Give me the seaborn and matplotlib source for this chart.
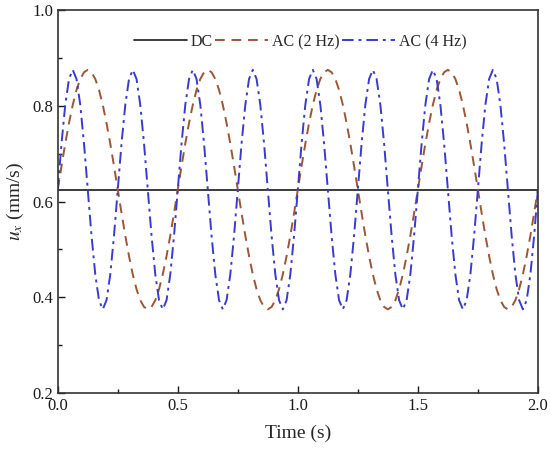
import numpy as np
import pandas as pd
import seaborn as sns
import matplotlib
matplotlib.use("Agg")
import matplotlib.pyplot as plt
from matplotlib.ticker import MultipleLocator

# Sampling grid (s), step 1/64 s
time = np.linspace(0.0, 2.0, 129)

# DC value (mm/s)
dc_value = 0.625

# AC (2 Hz) values (mm/s)
ac2 = [
    0.625, 0.674, 0.721, 0.764, 0.802, 0.833, 0.856, 0.870, 0.875, 0.870, 0.856, 0.833, 0.802, 0.764, 0.721, 0.674,
    0.625, 0.576, 0.529, 0.486, 0.448, 0.417, 0.394, 0.380, 0.375, 0.380, 0.394, 0.417, 0.448, 0.486, 0.529, 0.576,
    0.625, 0.674, 0.721, 0.764, 0.802, 0.833, 0.856, 0.870, 0.875, 0.870, 0.856, 0.833, 0.802, 0.764, 0.721, 0.674,
    0.625, 0.576, 0.529, 0.486, 0.448, 0.417, 0.394, 0.380, 0.375, 0.380, 0.394, 0.417, 0.448, 0.486, 0.529, 0.576,
    0.625, 0.674, 0.721, 0.764, 0.802, 0.833, 0.856, 0.870, 0.875, 0.870, 0.856, 0.833, 0.802, 0.764, 0.721, 0.674,
    0.625, 0.576, 0.529, 0.486, 0.448, 0.417, 0.394, 0.380, 0.375, 0.380, 0.394, 0.417, 0.448, 0.486, 0.529, 0.576,
    0.625, 0.674, 0.721, 0.764, 0.802, 0.833, 0.856, 0.870, 0.875, 0.870, 0.856, 0.833, 0.802, 0.764, 0.721, 0.674,
    0.625, 0.576, 0.529, 0.486, 0.448, 0.417, 0.394, 0.380, 0.375, 0.380, 0.394, 0.417, 0.448, 0.486, 0.529, 0.576,
    0.625,
]

# AC (4 Hz) values (mm/s)
ac4 = [
    0.625, 0.721, 0.802, 0.856, 0.875, 0.856, 0.802, 0.721, 0.625, 0.529, 0.448, 0.394, 0.375, 0.394, 0.448, 0.529,
    0.625, 0.721, 0.802, 0.856, 0.875, 0.856, 0.802, 0.721, 0.625, 0.529, 0.448, 0.394, 0.375, 0.394, 0.448, 0.529,
    0.625, 0.721, 0.802, 0.856, 0.875, 0.856, 0.802, 0.721, 0.625, 0.529, 0.448, 0.394, 0.375, 0.394, 0.448, 0.529,
    0.625, 0.721, 0.802, 0.856, 0.875, 0.856, 0.802, 0.721, 0.625, 0.529, 0.448, 0.394, 0.375, 0.394, 0.448, 0.529,
    0.625, 0.721, 0.802, 0.856, 0.875, 0.856, 0.802, 0.721, 0.625, 0.529, 0.448, 0.394, 0.375, 0.394, 0.448, 0.529,
    0.625, 0.721, 0.802, 0.856, 0.875, 0.856, 0.802, 0.721, 0.625, 0.529, 0.448, 0.394, 0.375, 0.394, 0.448, 0.529,
    0.625, 0.721, 0.802, 0.856, 0.875, 0.856, 0.802, 0.721, 0.625, 0.529, 0.448, 0.394, 0.375, 0.394, 0.448, 0.529,
    0.625, 0.721, 0.802, 0.856, 0.875, 0.856, 0.802, 0.721, 0.625, 0.529, 0.448, 0.394, 0.375, 0.394, 0.448, 0.529,
    0.625,
]

labels = ["DC", "AC (2 Hz)", "AC (4 Hz)"]
colors = ["#1a1a1a", "#9c5636", "#3a3acf"]

df = pd.DataFrame({"Time": time, "DC": [dc_value] * len(time), "AC2": ac2, "AC4": ac4})

sns.set_theme(style="ticks")
plt.rcParams["font.family"] = ["Liberation Serif", "DejaVu Serif"]
plt.rcParams["mathtext.fontset"] = "stix"

fig = plt.figure(figsize=(5.5, 4.54), dpi=100)
ax = fig.add_axes([0.105, 0.134, 0.873, 0.844])

sns.lineplot(data=df, x="Time", y="DC", ax=ax, color=colors[0], lw=1.2, label=labels[0])
sns.lineplot(data=df, x="Time", y="AC2", ax=ax, color=colors[1], lw=1.4, label=labels[1])
sns.lineplot(data=df, x="Time", y="AC4", ax=ax, color=colors[2], lw=1.4, label=labels[2])
lines = ax.get_lines()
lines[1].set_dashes([5, 3.5])
lines[2].set_dashes([6, 2.5, 1.5, 2.5])

ax.set_xlim(0, 2.0)
ax.set_ylim(0.2, 1.0)
ax.xaxis.set_major_locator(MultipleLocator(0.5))
ax.xaxis.set_minor_locator(MultipleLocator(0.25))
ax.yaxis.set_major_locator(MultipleLocator(0.2))
ax.yaxis.set_minor_locator(MultipleLocator(0.1))
ax.tick_params(which="both", direction="in", top=False, right=False, labelsize=12, colors="#1a1a1a")
ax.tick_params(which="major", length=5, width=1)
ax.tick_params(which="minor", length=3, width=1)
for s in ax.spines.values():
    s.set_linewidth(1.2)
    s.set_color("#333333")

ax.set_xlabel("Time (s)", fontsize=14, labelpad=8)
ax.set_ylabel(r"$u_x$ (mm/s)", fontsize=14, labelpad=4)

ax.legend(loc="upper center", bbox_to_anchor=(0.505, 0.975), ncol=3, frameon=False,
          fontsize=11.5, handlelength=3.3, columnspacing=0.15, handletextpad=0.25)

fig.savefig("out.png", dpi=100)
